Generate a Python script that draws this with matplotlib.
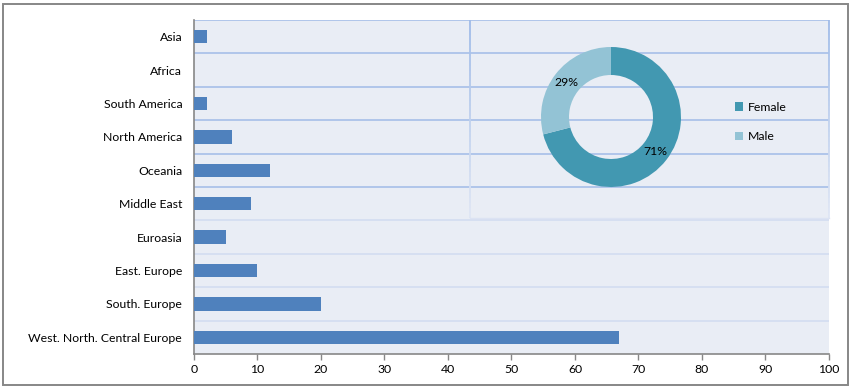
import matplotlib.pyplot as plt
import matplotlib.patches as mpatches
from matplotlib.collections import LineCollection
import numpy as np

plt.rcParams['font.family'] = ['Lato', 'DejaVu Sans']

regions = ["Asia", "Africa", "South America", "North America", "Oceania",
           "Middle East", "Euroasia", "East. Europe", "South. Europe",
           "West. North. Central Europe"]
counts = [2, 0, 2, 6, 12, 9, 5, 10, 20, 67]
x_ticks = list(range(0, 101, 10))

genders = ["Female", "Male"]
shares = [71, 29]

BAR_C = "#4f81bd"
PIE_C = ["#4298b1", "#93c3d5"]
BG = "#e9edf5"
GRID_DARK = "#a6bfe8"
GRID_LIGHT = "#d3ddf1"
FS = 8.8

W, H = 853, 390
fig = plt.figure(figsize=(W / 100, H / 100), dpi=100)


def fbox(x0, y0, x1, y1):
    # pixel box (top-left origin) -> figure fraction rect
    return [x0 / W, 1 - y1 / H, (x1 - x0) / W, (y1 - y0) / H]


# outer frame
fig.patches.append(mpatches.Rectangle((3 / W, 1 - 385 / H), 845 / W, 381 / H,
                                      transform=fig.transFigure, fill=False,
                                      edgecolor="#878787", lw=1.4))

# ---- bar chart ----
ax = fig.add_axes(fbox(194, 20, 829, 354))
ax.set_facecolor(BG)
ypos = np.arange(len(regions))
ax.barh(ypos, counts, height=0.4, color=BAR_C, zorder=3)
ax.set_xlim(0, 100)
ax.set_ylim(len(regions) - 0.5, -0.5)
ax.set_yticks(ypos)
ax.set_yticklabels(regions, fontsize=FS)
ax.set_xticks(x_ticks)
ax.set_xticklabels([str(t) for t in x_ticks], fontsize=FS)
ax.tick_params(axis="y", length=0, pad=8.5)
ax.tick_params(axis="x", length=4, width=1, color="#878787", pad=3)

bounds = np.arange(len(regions)) - 0.5
for b in bounds:
    col = GRID_DARK if b < 5 else GRID_LIGHT
    ax.axhline(b, color=col, lw=1.2, zorder=1)

for s in ["top", "right"]:
    ax.spines[s].set_visible(False)
for s in ["left", "bottom"]:
    ax.spines[s].set_color("#878787")
    ax.spines[s].set_linewidth(1.2)

# ---- pie box (overlay plot area, fading border) ----
box = fig.add_axes(fbox(470, 20, 829, 218))
box.set_xlim(0, 1)
box.set_ylim(0, 1)
box.patch.set_alpha(0)
box.set_xticks([])
box.set_yticks([])
for s in box.spines.values():
    s.set_visible(False)
yy = np.linspace(1, 0, 40)
for xv in [0, 1]:
    pts = np.array([[xv, y] for y in yy])
    segs = np.stack([pts[:-1], pts[1:]], axis=1)
    t = np.linspace(0, 1, len(segs))
    c0 = np.array([0x9f, 0xbb, 0xe8]) / 255
    c1 = np.array([0xdf, 0xe6, 0xf4]) / 255
    cols = [tuple(c0 * (1 - k) + c1 * k) for k in t]
    box.add_collection(LineCollection(segs, colors=cols, lw=1.3, clip_on=False))
box.axhline(0, color="#dce3f3", lw=1.0, clip_on=False)

# ---- donut ----
pax = fig.add_axes(fbox(541, 47, 681, 187))
wedges, _, autotexts = pax.pie(shares, colors=PIE_C, startangle=90,
                               counterclock=False, radius=1,
                               wedgeprops=dict(width=0.4, linewidth=0),
                               autopct="%d%%", pctdistance=0.8,
                               textprops=dict(fontsize=FS, color="black"))
pax.set_xlim(-1, 1)
pax.set_ylim(-1, 1)
pax.set_aspect("equal")

fig.legend(wedges, genders, loc="center left",
           bbox_to_anchor=(724 / W, 1 - 122 / H), frameon=False,
           fontsize=FS, handlelength=0.65, handleheight=0.65,
           handletextpad=0.4, labelspacing=1.5)

fig.savefig("out.png", dpi=100)
